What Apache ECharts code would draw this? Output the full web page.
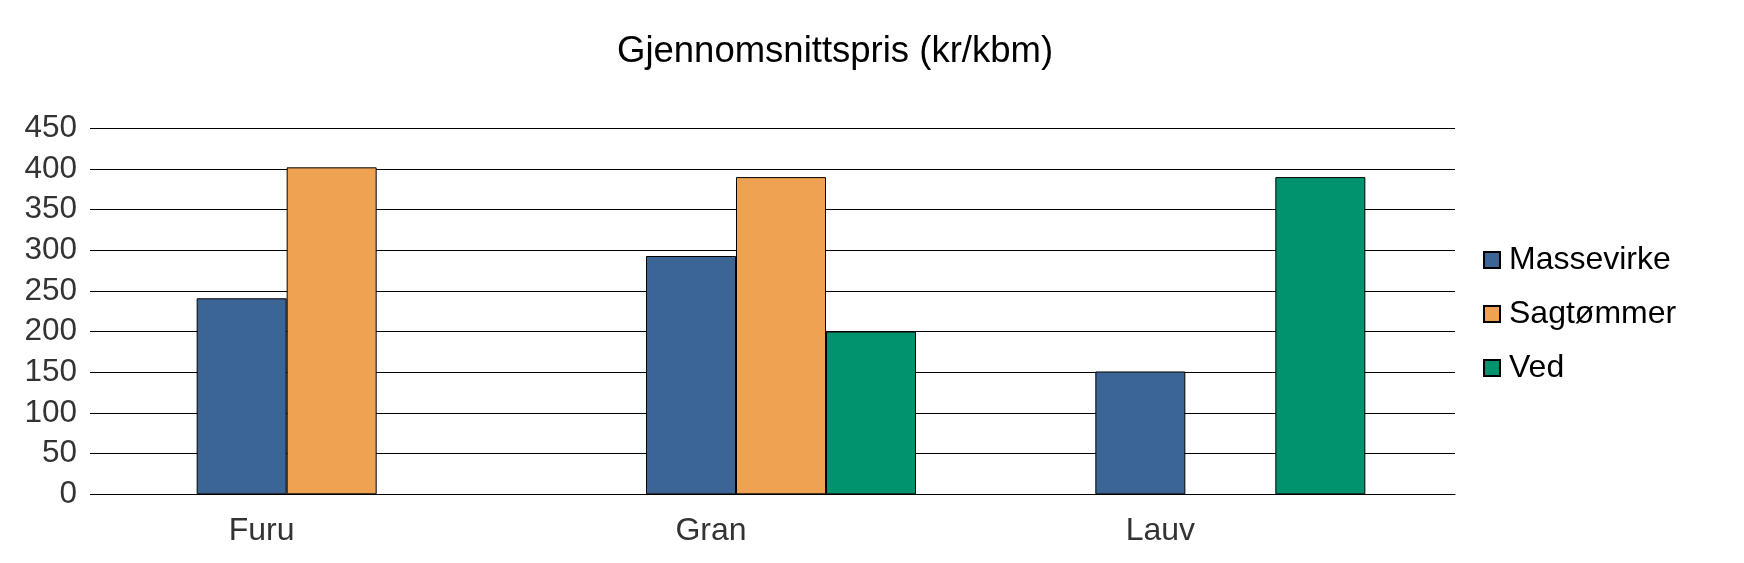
<!DOCTYPE html>
<html>
<head>
<meta charset="utf-8">
<script src="https://cdn.jsdelivr.net/npm/echarts@6/dist/echarts.min.js"></script>
<style>html,body{margin:0;padding:0;background:#fff}#c{width:1744px;height:563px}</style>
</head>
<body>
<div id="c"></div>
<script>
var categories = ['Furu', 'Gran', 'Lauv'];
var massevirke = [241, 293, 151];
var sagtommer = [402, 390, null];
var ved = [null, 200, 390];
var yTicks = [0, 50, 100, 150, 200, 250, 300, 350, 400, 450];

var chart = echarts.init(document.getElementById('c'), null, {renderer: 'canvas'});
var font = 'Liberation Sans, Arial, sans-serif';
function bar(name, data, color) {
  return {
    name: name, type: 'bar', data: data, barWidth: 90, barGap: '0%',
    itemStyle: {color: color, borderColor: '#000', borderWidth: 1},
    emphasis: {disabled: true}
  };
}
chart.setOption({
  animation: false,
  backgroundColor: '#fff',
  title: {
    text: 'Gjennomsnittspris (kr/kbm)', left: 617, top: 33, padding: 0,
    textStyle: {fontFamily: font, fontSize: 36.5, fontWeight: 'normal', color: '#000'}
  },
  legend: {
    orient: 'vertical', left: 1478, top: 239,
    itemWidth: 16, itemHeight: 16, itemGap: 22, icon: 'rect',
    textStyle: {fontFamily: font, fontSize: 32, color: '#000', lineHeight: 32, padding: [0, 0, 0, 4]},
    data: ['Massevirke', 'Sagtømmer', 'Ved']
  },
  grid: {left: 107, right: 289, top: 128.3, bottom: 68.7, containLabel: false},
  xAxis: {
    type: 'category', data: categories,
    axisLine: {lineStyle: {color: '#000', width: 1}},
    axisTick: {show: false},
    axisLabel: {fontFamily: font, fontSize: 32, color: '#333', margin: 21, padding: [0, 140, 0, 0]}
  },
  yAxis: {
    type: 'value', min: yTicks[0], max: yTicks[yTicks.length - 1], interval: 50,
    axisLine: {show: false},
    axisTick: {show: true, length: 17, lineStyle: {color: '#000', width: 1}},
    splitLine: {lineStyle: {color: '#000', width: 1}},
    axisLabel: {fontFamily: font, fontSize: 31.5, color: '#333', margin: 30}
  },
  series: [
    bar('Massevirke', massevirke, '#3a6595'),
    bar('Sagtømmer', sagtommer, '#efa352'),
    bar('Ved', ved, '#00936e')
  ]
});
</script>
</body>
</html>
